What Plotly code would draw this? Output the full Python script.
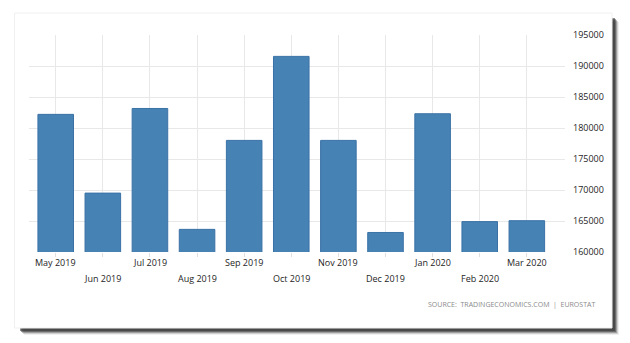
import plotly.graph_objects as go

# Monthly values, May 2019 - Mar 2020
months = ["May 2019", "Jun 2019", "Jul 2019", "Aug 2019", "Sep 2019", "Oct 2019",
          "Nov 2019", "Dec 2019", "Jan 2020", "Feb 2020", "Mar 2020"]
values = [182200, 169500, 183150, 163650, 178000, 191550,
          178000, 163150, 182300, 164900, 165050]
y_ticks = [160000, 165000, 170000, 175000, 180000, 185000, 190000, 195000]
source_text = "SOURCE:  TRADINGECONOMICS.COM  |  EUROSTAT"

W, H = 630, 343
L, R, T, B = 29, 65, 35, 91  # plot area margins in px
pw, ph = W - L - R, H - T - B

def px_x(x):
    return (x - L) / pw

def px_y(y):
    return (H - B - y) / ph

xs = list(range(len(months)))

fig = go.Figure()
fig.add_trace(go.Bar(
    x=xs, y=values,
    marker=dict(color="#4682b4", line=dict(color="#3a72a6", width=1)),
    width=0.755,
    hoverinfo="skip",
))

shapes = []
# soft drop shadow of the card (right and bottom)
for off, op in [(7, 0.08), (6, 0.16), (5, 0.3), (4, 0.45), (3, 0.55)]:
    shapes.append(dict(type="rect", xref="paper", yref="paper", layer="below",
                       x0=px_x(17 + off), x1=px_x(612 + off),
                       y0=px_y(328 + off), y1=px_y(15 + off),
                       fillcolor=f"rgba(45,45,45,{op})", line=dict(width=0)))
# card
shapes.append(dict(type="rect", xref="paper", yref="paper", layer="below",
                   x0=px_x(14.5), x1=px_x(612), y0=px_y(328), y1=px_y(13),
                   fillcolor="white", line=dict(color="#f0f0f0", width=1)))

annotations = []
for i, m in enumerate(months):
    annotations.append(dict(x=i, y=0, xref="x", yref="paper", text=m,
                            showarrow=False, xanchor="center", yanchor="middle",
                            yshift=-10 if i % 2 == 0 else -26,
                            font=dict(family="Open Sans", size=9, color="#1e1e1e")))
annotations.append(dict(x=px_x(597), y=px_y(304), xref="paper", yref="paper",
                        text=source_text, showarrow=False, xanchor="right",
                        yanchor="middle",
                        font=dict(family="Open Sans", size=7, color="#8a8a8a")))

fig.update_layout(
    width=W, height=H,
    margin=dict(l=L, r=R, t=T, b=B, pad=0),
    paper_bgcolor="white", plot_bgcolor="rgba(0,0,0,0)",
    showlegend=False,
    bargap=0.25,
    shapes=shapes,
    annotations=annotations,
    xaxis=dict(range=[-0.567, 10.81], tickvals=xs, ticktext=[""] * len(xs),
               showgrid=True, gridcolor="#e8e8e8", gridwidth=1,
               ticks="outside", ticklen=4, tickcolor="#e0e0e0",
               zeroline=False, showline=False, fixedrange=True),
    yaxis=dict(range=[160000, 195000], side="right", tickvals=y_ticks,
               ticktext=[str(v) for v in y_ticks],
               showgrid=True, gridcolor="#e8e8e8", gridwidth=1,
               zeroline=False, showline=False, ticks="",
               ticklabelstandoff=7,
               tickfont=dict(family="Open Sans", size=9, color="#1e1e1e"),
               fixedrange=True),
)

fig.write_html("out.html")
